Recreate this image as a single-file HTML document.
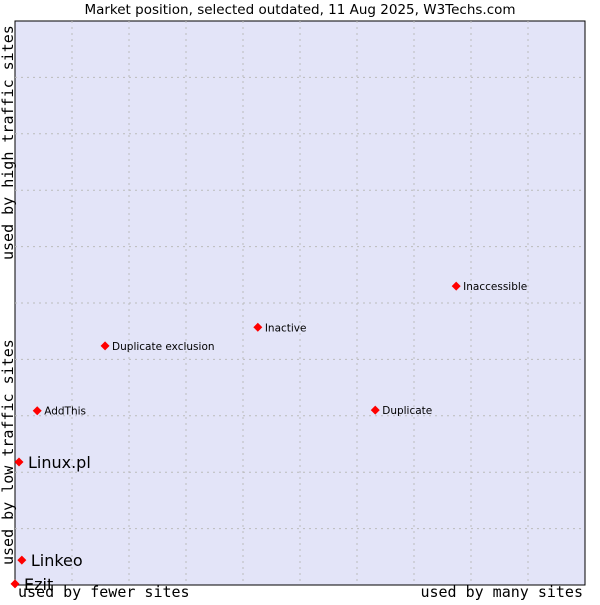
<!DOCTYPE html>
<html><head><meta charset="utf-8"><style>
body{margin:0;background:#fff;width:600px;height:600px;overflow:hidden}
svg text{font-family:"DejaVu Sans","Liberation Sans",sans-serif}
</style></head><body>
<svg id="chart" width="600" height="600" xmlns="http://www.w3.org/2000/svg">
<text x="300" y="14" text-anchor="middle" font-size="13.5" fill="#000">Market position, selected outdated, 11 Aug 2025, W3Techs.com</text>
<rect x="15" y="21" width="570" height="564" fill="#e3e4f8" stroke="#000" stroke-width="1"/>
<g id="grid"></g>
<g id="marks"></g>
<text x="18" y="597" font-size="15" style="font-family:'DejaVu Sans Mono','Liberation Mono',monospace">used by fewer sites</text>
<text x="583" y="597" text-anchor="end" font-size="15" style="font-family:'DejaVu Sans Mono','Liberation Mono',monospace">used by many sites</text>
<text transform="translate(13,565) rotate(-90)" font-size="15" style="font-family:'DejaVu Sans Mono','Liberation Mono',monospace">used by low traffic sites</text>
<text transform="translate(13,260) rotate(-90)" font-size="15" style="font-family:'DejaVu Sans Mono','Liberation Mono',monospace">used by high traffic sites</text>
</svg>
<script>
const names = ["Ezit","Linkeo","Linux.pl","AddThis","Duplicate exclusion","Inactive","Duplicate","Inaccessible"];
const xValues = [0, 1.2, 0.7, 3.9, 15.8, 42.6, 63.2, 77.4];
const yValues = [0.2, 4.4, 21.8, 30.9, 42.4, 45.7, 31.0, 53.0];
const bigLabel = [true, true, true, false, false, false, false, false];
const NS="http://www.w3.org/2000/svg";
const L=15,R=585,T=21,B=585;
const sx=v=>L+v/100*(R-L);
const sy=v=>B-v/100*(B-T);
const grid=document.getElementById('grid');
for(let i=1;i<10;i++){
  const v=document.createElementNS(NS,'line');
  
  
  v.setAttribute('x1',sx(i*10));v.setAttribute('x2',sx(i*10));v.setAttribute('y1',T);v.setAttribute('y2',B);
  v.setAttribute('stroke','#bbb');v.setAttribute('stroke-dasharray','2,4');grid.appendChild(v);
  const h=document.createElementNS(NS,'line');
  
  
  h.setAttribute('x1',L);h.setAttribute('x2',R);h.setAttribute('y1',sy(i*10));h.setAttribute('y2',sy(i*10));
  h.setAttribute('stroke','#bbb');h.setAttribute('stroke-dasharray','2,4');grid.appendChild(h);
}
const marks=document.getElementById('marks');
names.forEach((n,i)=>{
  const x=sx(xValues[i]),y=sy(yValues[i]);
  const p=document.createElementNS(NS,'path');
  
  
  p.setAttribute('d',`M${x-4.5},${y}L${x},${y-4.5}L${x+4.5},${y}L${x},${y+4.5}Z`);
  p.setAttribute('fill','#f00');marks.appendChild(p);
  const t=document.createElementNS(NS,'text');
  
  
  const big=bigLabel[i];
  t.setAttribute('x',x+(big?9:7));t.setAttribute('y',y+(big?6:4));
  t.setAttribute('font-size',big?16:10.5);t.setAttribute('fill','#000');
  t.textContent=n;marks.appendChild(t);
});
</script>
</body></html>
